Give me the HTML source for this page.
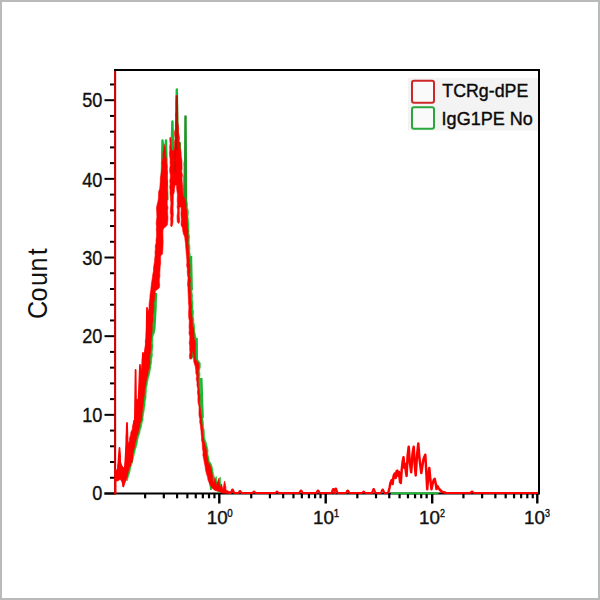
<!DOCTYPE html>
<html><head><meta charset="utf-8"><title>Histogram</title>
<style>
html,body{margin:0;padding:0;background:#fff;}
body{width:600px;height:600px;overflow:hidden;position:relative;font-family:"Liberation Sans",sans-serif;}
#frame{position:absolute;left:0;top:0;width:596px;height:596px;border:2px solid #b9bbbb;}
svg{position:absolute;left:0;top:0;}
svg text{font-family:"Liberation Sans",sans-serif;}
</style></head><body>
<div id="frame"></div>
<svg width="600" height="600" viewBox="0 0 600 600">
<rect x="408" y="78" width="130" height="52.5" fill="#f3f3f3"/>
<rect x="412" y="80.8" width="22" height="22" rx="2" fill="#fafafa" stroke="#cc2828" stroke-width="2"/>
<rect x="412" y="107.2" width="22" height="21.6" rx="2" fill="#fafafa" stroke="#28a83c" stroke-width="2"/>
<text x="442.3" y="97.3" font-size="19" textLength="86" lengthAdjust="spacingAndGlyphs" fill="#0a0a0a" stroke="#0a0a0a" stroke-width="0.4">TCRg-dPE</text>
<text x="441.6" y="124.8" font-size="19" textLength="91.2" lengthAdjust="spacingAndGlyphs" fill="#0a0a0a" stroke="#0a0a0a" stroke-width="0.4">IgG1PE No</text>
<path d="M114 70 H540" stroke="#000" stroke-width="2" fill="none"/>
<path d="M539 69 V494.5" stroke="#000" stroke-width="2" fill="none"/>
<path d="M104.5 493.5 H539" stroke="#000" stroke-width="2" fill="none"/>
<path d="M104.5 493.50 H115" stroke="#000" stroke-width="2"/>
<path d="M110 477.77 H115" stroke="#000" stroke-width="2"/>
<path d="M110 462.04 H115" stroke="#000" stroke-width="2"/>
<path d="M110 446.30 H115" stroke="#000" stroke-width="2"/>
<path d="M110 430.57 H115" stroke="#000" stroke-width="2"/>
<path d="M104.5 414.84 H115" stroke="#000" stroke-width="2"/>
<path d="M110 399.11 H115" stroke="#000" stroke-width="2"/>
<path d="M110 383.38 H115" stroke="#000" stroke-width="2"/>
<path d="M110 367.64 H115" stroke="#000" stroke-width="2"/>
<path d="M110 351.91 H115" stroke="#000" stroke-width="2"/>
<path d="M104.5 336.18 H115" stroke="#000" stroke-width="2"/>
<path d="M110 320.45 H115" stroke="#000" stroke-width="2"/>
<path d="M110 304.72 H115" stroke="#000" stroke-width="2"/>
<path d="M110 288.98 H115" stroke="#000" stroke-width="2"/>
<path d="M110 273.25 H115" stroke="#000" stroke-width="2"/>
<path d="M104.5 257.52 H115" stroke="#000" stroke-width="2"/>
<path d="M110 241.79 H115" stroke="#000" stroke-width="2"/>
<path d="M110 226.06 H115" stroke="#000" stroke-width="2"/>
<path d="M110 210.32 H115" stroke="#000" stroke-width="2"/>
<path d="M110 194.59 H115" stroke="#000" stroke-width="2"/>
<path d="M104.5 178.86 H115" stroke="#000" stroke-width="2"/>
<path d="M110 163.13 H115" stroke="#000" stroke-width="2"/>
<path d="M110 147.40 H115" stroke="#000" stroke-width="2"/>
<path d="M110 131.66 H115" stroke="#000" stroke-width="2"/>
<path d="M110 115.93 H115" stroke="#000" stroke-width="2"/>
<path d="M104.5 100.20 H115" stroke="#000" stroke-width="2"/>
<path d="M110 84.47 H115" stroke="#000" stroke-width="2"/>
<path d="M145.14 493.5 V498.3" stroke="#000" stroke-width="2.2"/>
<path d="M163.82 493.5 V498.3" stroke="#000" stroke-width="2.2"/>
<path d="M177.08 493.5 V498.3" stroke="#000" stroke-width="2.2"/>
<path d="M187.36 493.5 V498.3" stroke="#000" stroke-width="2.2"/>
<path d="M195.76 493.5 V498.3" stroke="#000" stroke-width="2.2"/>
<path d="M202.86 493.5 V498.3" stroke="#000" stroke-width="2.2"/>
<path d="M209.02 493.5 V498.3" stroke="#000" stroke-width="2.2"/>
<path d="M214.45 493.5 V498.3" stroke="#000" stroke-width="2.2"/>
<path d="M251.24 493.5 V498.3" stroke="#000" stroke-width="2.2"/>
<path d="M269.92 493.5 V498.3" stroke="#000" stroke-width="2.2"/>
<path d="M283.18 493.5 V498.3" stroke="#000" stroke-width="2.2"/>
<path d="M293.46 493.5 V498.3" stroke="#000" stroke-width="2.2"/>
<path d="M301.86 493.5 V498.3" stroke="#000" stroke-width="2.2"/>
<path d="M308.96 493.5 V498.3" stroke="#000" stroke-width="2.2"/>
<path d="M315.12 493.5 V498.3" stroke="#000" stroke-width="2.2"/>
<path d="M320.55 493.5 V498.3" stroke="#000" stroke-width="2.2"/>
<path d="M357.34 493.5 V498.3" stroke="#000" stroke-width="2.2"/>
<path d="M376.02 493.5 V498.3" stroke="#000" stroke-width="2.2"/>
<path d="M389.28 493.5 V498.3" stroke="#000" stroke-width="2.2"/>
<path d="M399.56 493.5 V498.3" stroke="#000" stroke-width="2.2"/>
<path d="M407.96 493.5 V498.3" stroke="#000" stroke-width="2.2"/>
<path d="M415.06 493.5 V498.3" stroke="#000" stroke-width="2.2"/>
<path d="M421.22 493.5 V498.3" stroke="#000" stroke-width="2.2"/>
<path d="M426.65 493.5 V498.3" stroke="#000" stroke-width="2.2"/>
<path d="M463.44 493.5 V498.3" stroke="#000" stroke-width="2.2"/>
<path d="M482.12 493.5 V498.3" stroke="#000" stroke-width="2.2"/>
<path d="M495.38 493.5 V498.3" stroke="#000" stroke-width="2.2"/>
<path d="M505.66 493.5 V498.3" stroke="#000" stroke-width="2.2"/>
<path d="M514.06 493.5 V498.3" stroke="#000" stroke-width="2.2"/>
<path d="M521.16 493.5 V498.3" stroke="#000" stroke-width="2.2"/>
<path d="M527.32 493.5 V498.3" stroke="#000" stroke-width="2.2"/>
<path d="M532.75 493.5 V498.3" stroke="#000" stroke-width="2.2"/>
<path d="M219.30 493.5 V503.5" stroke="#000" stroke-width="2.4"/>
<path d="M325.70 493.5 V503.5" stroke="#000" stroke-width="2.4"/>
<path d="M432.20 493.5 V503.5" stroke="#000" stroke-width="2.4"/>
<path d="M537.30 493.5 V503.5" stroke="#000" stroke-width="2.4"/>
<text transform="translate(102.3 500.00) scale(0.93 1.02)" font-size="19.5" text-anchor="end" fill="#111" stroke="#111" stroke-width="0.35">0</text>
<text transform="translate(102.3 421.84) scale(0.93 1.02)" font-size="19.5" text-anchor="end" fill="#111" stroke="#111" stroke-width="0.35">10</text>
<text transform="translate(102.3 343.18) scale(0.93 1.02)" font-size="19.5" text-anchor="end" fill="#111" stroke="#111" stroke-width="0.35">20</text>
<text transform="translate(102.3 264.52) scale(0.93 1.02)" font-size="19.5" text-anchor="end" fill="#111" stroke="#111" stroke-width="0.35">30</text>
<text transform="translate(102.3 186.86) scale(0.93 1.02)" font-size="19.5" text-anchor="end" fill="#111" stroke="#111" stroke-width="0.35">40</text>
<text transform="translate(102.3 107.20) scale(0.93 1.02)" font-size="19.5" text-anchor="end" fill="#111" stroke="#111" stroke-width="0.35">50</text>
<text x="206.70" y="523.9" font-size="18.8" fill="#111" stroke="#111" stroke-width="0.4">10</text>
<text transform="translate(227.30 516.9) scale(0.85 1)" font-size="11.5" fill="#111" stroke="#111" stroke-width="0.4">0</text>
<text x="313.10" y="523.9" font-size="18.8" fill="#111" stroke="#111" stroke-width="0.4">10</text>
<text transform="translate(333.70 516.9) scale(0.85 1)" font-size="11.5" fill="#111" stroke="#111" stroke-width="0.4">1</text>
<text x="419.00" y="523.9" font-size="18.8" fill="#111" stroke="#111" stroke-width="0.4">10</text>
<text transform="translate(439.90 516.9) scale(0.78 1)" font-size="11.5" fill="#111" stroke="#111" stroke-width="0.4">2</text>
<text x="524.10" y="523.9" font-size="18.8" fill="#111" stroke="#111" stroke-width="0.4">10</text>
<text transform="translate(545.00 516.9) scale(0.78 1)" font-size="11.5" fill="#111" stroke="#111" stroke-width="0.4">3</text>
<text transform="translate(46.6 316.7) rotate(-90) scale(0.9 1)" font-size="28" x="-2.67 16.9 34.1 50.2 68.2" fill="#111">Count</text>
<filter id="bl" x="-5%" y="-5%" width="110%" height="110%"><feGaussianBlur stdDeviation="0.35"/></filter>
<g filter="url(#bl)">
<clipPath id="ca"><rect x="100" y="293" width="100" height="215"/></clipPath>
<clipPath id="cb"><rect x="183" y="100" width="80" height="140"/><rect x="150" y="236" width="72" height="270"/></clipPath>
<path clip-path="url(#ca)" d="M126.60 472.00 L127.04 469.00 L127.47 466.00 L127.84 463.00 L127.90 460.00 L128.65 456.75 L128.82 453.50 L129.33 450.25 L129.30 447.00 L129.58 444.00 L130.67 441.00 L131.80 438.00 L132.10 435.00 L132.93 432.00 L133.86 429.00 L133.85 426.00 L134.90 423.00 L135.90 421.00 L136.37 417.67 L136.67 414.33 L137.40 411.00 L138.17 407.33 L138.93 403.67 L139.60 400.00 L139.66 397.00 L140.35 394.00 L140.90 391.00 L141.60 388.00 L142.71 384.33 L143.31 380.67 L143.80 377.00 L143.57 374.00 L144.22 371.00 L143.70 368.00 L144.10 365.00 L144.28 362.00 L143.91 359.00 L143.88 356.00 L144.40 353.00 L145.13 356.50 L145.20 360.00 L145.24 356.67 L145.54 353.33 L146.10 350.00 L146.83 347.00 L147.04 344.00 L146.81 341.00 L147.72 338.00 L147.60 335.00 L147.94 331.60 L148.36 328.20 L148.23 324.80 L149.20 321.40 L149.10 318.00 L149.65 314.75 L150.27 311.50 L150.58 308.25 L150.60 305.00 L150.79 301.75 L151.23 298.50 L151.42 295.25 L152.10 292.00 L152.16 289.00 L152.46 286.00 L153.05 283.00 L153.60 280.00 L154.07 277.00 L153.90 274.00 L154.89 271.00 L155.10 268.00 L155.25 264.80 L155.53 261.60 L156.29 258.40 L156.28 255.20 L156.60 252.00 L156.68 249.00 L157.08 246.00 L157.53 243.00 L157.60 240.00 L157.28 236.67 L158.19 233.33 L157.42 230.00 L158.16 226.67 L158.33 223.33 L158.10 220.00 L157.77 217.00 L158.56 214.00 L158.28 211.00 L158.57 208.00 L158.60 205.00 L158.66 201.67 L159.19 198.33 L160.10 195.00 L160.31 191.67 L161.51 188.33 L161.60 185.00 L161.65 181.75 L162.48 178.50 L162.96 175.25 L162.90 172.00 L163.60 169.00 L163.36 166.00 L163.67 163.00 L164.10 160.00 L164.49 156.67 L165.08 153.33 L165.20 150.00 L166.10 144.50 L166.30 148.25 L167.20 152.00 L167.72 155.67 L168.07 159.33 L168.10 163.00 L168.57 166.14 L167.97 169.29 L168.93 172.43 L168.30 175.57 L168.67 178.71 L169.06 181.86 L169.10 185.00 L169.50 188.22 L169.00 191.44 L169.55 194.67 L169.23 197.89 L169.04 201.11 L169.07 204.33 L168.97 207.56 L168.90 210.78 L169.30 214.00 L168.85 217.67 L169.20 221.33 L168.90 225.00 L167.60 226.50 L165.60 228.00 L164.60 230.00 L165.05 233.00 L164.30 236.00 L164.19 239.00 L165.04 242.00 L164.60 245.00 L164.46 248.00 L164.18 251.00 L164.10 254.00 L162.20 256.00 L161.81 259.50 L161.98 263.00 L162.04 266.50 L161.60 270.00 L161.43 273.00 L161.26 276.00 L160.80 279.00 L161.44 282.00 L160.51 285.00 L160.80 288.00 L157.00 291.00 L156.66 294.00 L156.64 297.00 L156.00 300.00 L155.44 303.00 L155.76 306.00 L155.73 309.00 L155.10 312.00 L154.98 315.20 L154.88 318.40 L154.03 321.60 L154.08 324.80 L153.90 328.00 L153.33 331.00 L153.71 334.00 L152.97 337.00 L152.90 340.00 L152.68 343.00 L153.00 346.00 L152.69 349.00 L152.20 352.00 L152.43 355.33 L151.76 358.67 L151.60 362.00 L151.09 365.00 L150.81 368.00 L150.08 371.00 L149.60 374.00 L148.41 378.00 L147.60 382.00 L147.14 385.00 L146.53 388.00 L146.36 391.00 L146.10 394.00 L146.04 398.00 L145.10 402.00 L145.18 405.00 L144.55 408.00 L144.10 411.00 L143.62 414.00 L143.06 417.00 L143.10 420.00 L141.96 423.33 L141.49 426.67 L140.30 430.00 L139.80 433.33 L138.51 436.67 L137.80 440.00 L137.22 443.33 L136.38 446.67 L135.30 450.00 L134.64 453.33 L133.78 456.67 L132.80 460.00 L132.20 463.33 L131.01 466.67 L130.30 470.00 L129.63 473.00 L128.60 476.00 L127.10 481.00 L126.74 478.00 L126.75 475.00 Z" fill="#18c030" stroke="#18c030" stroke-width="0.6"/>
<path clip-path="url(#cb)" d="M171.90 224.00 L172.13 220.88 L172.05 217.75 L171.68 214.62 L172.25 211.50 L171.97 208.38 L171.90 205.25 L171.37 202.12 L171.80 199.00 L171.71 195.67 L171.31 192.33 L171.40 189.00 L171.53 185.92 L171.32 182.85 L171.62 179.77 L171.44 176.69 L171.55 173.62 L171.12 170.54 L171.37 167.46 L171.43 164.38 L171.49 161.31 L171.03 158.23 L171.45 155.15 L171.46 152.08 L171.10 149.00 L171.32 145.75 L171.63 142.50 L171.66 139.25 L171.30 136.00 L172.30 138.00 L172.48 141.67 L172.66 145.33 L172.80 149.00 L175.30 150.00 L175.25 147.00 L175.80 144.00 L176.24 140.67 L176.46 137.33 L176.18 134.00 L176.51 130.67 L176.66 127.33 L176.60 124.00 L176.94 120.67 L176.57 117.33 L177.25 114.00 L177.21 110.67 L177.42 107.33 L177.40 104.00 L177.56 100.67 L177.98 97.33 L178.10 94.00 L178.58 97.33 L178.69 100.67 L178.80 104.00 L179.13 107.33 L178.64 110.67 L178.89 114.00 L179.28 117.33 L179.60 120.67 L179.60 124.00 L179.58 127.33 L180.23 130.67 L180.30 134.00 L180.67 137.00 L180.39 140.00 L181.02 143.00 L181.30 146.00 L181.39 149.00 L181.57 152.00 L182.30 155.00 L182.30 158.00 L182.80 161.00 L183.30 164.00 L183.10 167.33 L183.19 170.67 L183.13 174.00 L183.60 177.33 L183.61 180.67 L183.80 184.00 L184.07 187.33 L184.21 190.67 L184.30 194.00 L186.30 199.00 L187.30 204.00 L187.40 207.33 L188.33 210.67 L188.30 214.00 L188.05 217.33 L188.61 220.67 L188.90 224.00 L188.83 227.12 L189.07 230.25 L188.93 233.38 L189.70 236.50 L189.41 239.62 L189.23 242.75 L189.88 245.88 L189.90 249.00 L189.74 252.00 L190.34 255.00 L190.36 258.00 L190.70 261.00 L190.91 264.17 L191.38 267.33 L191.39 270.50 L191.16 273.67 L191.65 276.83 L191.63 280.00 L191.52 283.17 L191.44 286.33 L191.99 289.50 L192.09 292.67 L192.58 295.83 L192.30 299.00 L192.97 302.33 L192.90 305.67 L192.92 309.00 L193.65 312.33 L193.10 315.67 L193.80 319.00 L193.75 322.00 L194.46 325.00 L194.80 328.00 L194.68 331.00 L195.30 334.00 L196.07 337.50 L196.60 341.00 L196.99 344.40 L196.57 347.80 L196.66 351.20 L196.51 354.60 L196.80 358.00 L198.36 360.50 L200.30 363.00 L200.30 367.00 L199.50 371.00 L200.09 374.00 L199.73 377.00 L200.42 380.00 L200.54 383.00 L200.42 386.00 L200.50 389.00 L200.53 392.33 L201.43 395.67 L201.25 399.00 L201.42 402.33 L201.59 405.67 L202.00 409.00 L202.74 412.00 L202.59 415.00 L202.71 418.00 L203.18 421.00 L203.50 424.00 L203.46 427.00 L204.21 430.00 L204.35 433.00 L204.51 436.00 L205.00 439.00 L206.40 443.00 L207.30 447.00 L208.09 450.50 L207.86 454.00 L208.83 457.50 L209.30 461.00 L211.30 464.00 L212.80 469.00 L213.10 472.00 L213.80 475.00 L214.69 479.00 L214.80 483.00 L215.80 479.75 L216.30 476.50 L216.72 480.75 L217.60 485.00 L218.80 481.00 L220.30 477.00 L220.52 480.33 L220.86 483.67 L221.60 487.00 L222.80 483.00 L224.30 488.50 L225.49 484.25 L225.80 480.00 L226.11 483.00 L226.90 486.00 L227.30 489.00 L229.30 490.00 L232.30 491.00 L233.80 488.00 L235.30 491.00 L232.28 491.75 L229.30 492.50 L226.43 492.25 L223.30 492.00 L220.30 490.50 L216.30 489.50 L213.30 487.00 L211.30 484.00 L209.30 479.00 L208.64 476.00 L207.80 473.00 L207.27 469.00 L206.30 465.00 L205.21 461.00 L204.80 457.00 L204.70 454.00 L203.95 451.00 L203.80 448.00 L203.50 445.00 L202.99 442.00 L202.80 439.00 L202.38 436.00 L202.35 433.00 L202.05 430.00 L201.71 427.00 L201.60 424.00 L201.56 421.00 L201.16 418.00 L200.40 415.00 L200.34 412.00 L200.30 409.00 L200.01 405.50 L200.17 402.00 L199.90 398.50 L199.30 395.00 L199.09 391.50 L198.36 388.00 L198.80 384.50 L198.30 381.00 L197.93 378.00 L197.77 375.00 L197.59 372.00 L197.10 369.00 L196.22 365.00 L195.10 361.00 L194.71 358.00 L194.72 355.00 L193.87 352.00 L193.60 349.00 L193.24 352.00 L193.38 355.00 L192.80 358.00 L191.10 358.00 L190.77 354.78 L190.81 351.56 L191.23 348.33 L190.49 345.11 L191.12 341.89 L190.94 338.67 L190.65 335.44 L190.46 332.22 L190.60 329.00 L190.77 326.00 L190.81 323.00 L190.04 320.00 L190.26 317.00 L190.24 314.00 L190.12 311.00 L189.89 308.00 L189.65 305.00 L189.96 302.00 L189.80 299.00 L189.96 295.88 L189.16 292.75 L189.18 289.62 L189.59 286.50 L189.44 283.38 L189.20 280.25 L188.50 277.12 L188.80 274.00 L188.81 270.88 L188.86 267.75 L188.69 264.62 L188.23 261.50 L187.46 258.38 L187.98 255.25 L187.23 252.12 L187.30 249.00 L187.10 245.67 L187.04 242.33 L186.30 239.00 L185.87 236.00 L184.72 233.00 L184.24 230.00 L183.80 227.00 L182.30 224.00 L182.68 221.00 L181.98 218.00 L182.40 215.00 L182.22 212.00 L182.00 209.00 L182.30 206.00 L180.80 206.00 L180.91 209.00 L180.39 212.00 L180.45 215.00 L180.69 218.00 L180.80 221.00 L179.80 222.50 L178.60 221.00 L178.21 218.00 L178.20 215.00 L178.67 212.00 L178.82 209.00 L178.94 206.00 L178.27 203.00 L178.54 200.00 L178.60 197.00 L178.26 193.75 L178.34 190.50 L178.07 187.25 L177.90 184.00 L176.50 184.00 L176.44 187.50 L175.60 191.00 L174.99 194.00 L174.60 197.00 L174.20 200.40 L174.78 203.80 L174.29 207.20 L174.72 210.60 L174.60 214.00 L174.34 217.33 L174.44 220.67 L173.80 224.00 L172.90 226.00 L172.10 225.00 Z" fill="#18c030" stroke="#18c030" stroke-width="0.6"/>
<path d="M210.3 482 L211 490 M218.3 489 L219.5 493" stroke="#18c030" stroke-width="2" fill="none"/>
<path d="M391 493.3 H438.5" stroke="#18c030" stroke-width="1.7" fill="none"/>
<path d="M161.50 200.00 L162.50 140.50 L164.20 160.00 L166.00 140.50 L167.30 200.00" stroke="#18b834" stroke-width="2.4" fill="none" stroke-linejoin="round"/>
<path d="M171.40 160.00 L172.40 121.50 L173.40 160.00" stroke="#18b834" stroke-width="2.4" fill="none" stroke-linejoin="round"/>
<path d="M176.00 140.00 L176.80 89.50 L177.60 140.00" stroke="#18b834" stroke-width="2.4" fill="none" stroke-linejoin="round"/>
<path d="M179.60 158.00 L179.80 143.00 L180.30 162.00" stroke="#18b834" stroke-width="2.4" fill="none" stroke-linejoin="round"/>
<path d="M185.00 206.00 L185.50 116.50 L186.00 206.00" stroke="#209428" stroke-width="2.5" fill="none" stroke-linejoin="round"/>
<path d="M191.00 256.00 L191.70 290.00" stroke="#18b834" stroke-width="2.4" fill="none" stroke-linejoin="round"/>
<path d="M155.90 293.00 L155.40 310.00 L154.30 329.00 L153.20 334.00" stroke="#18b834" stroke-width="2.4" fill="none" stroke-linejoin="round"/>
<path d="M196.60 338.00 L196.80 360.00" stroke="#18b834" stroke-width="2.4" fill="none" stroke-linejoin="round"/>
<path d="M201.30 378.00 L202.60 418.00" stroke="#18b834" stroke-width="2.4" fill="none" stroke-linejoin="round"/>
<path d="M115.1 71 V494.5" stroke="#cc0000" stroke-width="2.1" fill="none"/>
<path d="M125.00 472.00 L125.09 469.00 L125.69 466.00 L125.86 463.00 L126.30 460.00 L126.74 456.75 L127.11 453.50 L126.96 450.25 L127.70 447.00 L127.96 444.00 L129.40 441.00 L129.58 438.00 L130.50 435.00 L130.96 432.00 L132.35 429.00 L132.57 426.00 L133.30 423.00 L134.30 421.00 L135.10 417.67 L135.28 414.33 L135.80 411.00 L136.66 407.33 L136.95 403.67 L138.00 400.00 L138.62 397.00 L139.33 394.00 L139.52 391.00 L140.00 388.00 L140.95 384.33 L141.62 380.67 L142.20 377.00 L141.88 374.00 L142.58 371.00 L142.51 368.00 L142.50 365.00 L142.40 362.00 L142.23 359.00 L143.05 356.00 L142.80 353.00 L143.18 356.50 L143.60 360.00 L144.10 356.67 L144.54 353.33 L144.50 350.00 L144.99 347.00 L145.48 344.00 L145.31 341.00 L145.97 338.00 L146.00 335.00 L146.25 331.60 L146.99 328.20 L147.24 324.80 L146.84 321.40 L147.50 318.00 L147.55 314.75 L148.00 311.50 L149.04 308.25 L149.00 305.00 L149.32 301.75 L149.86 298.50 L149.95 295.25 L150.50 292.00 L150.88 289.00 L151.15 286.00 L151.49 283.00 L152.00 280.00 L152.45 277.00 L152.83 274.00 L153.49 271.00 L153.50 268.00 L153.96 264.80 L154.49 261.60 L154.72 258.40 L155.14 255.20 L155.00 252.00 L155.40 249.00 L155.20 246.00 L156.07 243.00 L156.00 240.00 L156.50 236.67 L156.53 233.33 L156.31 230.00 L156.53 226.67 L156.16 223.33 L156.50 220.00 L156.90 217.00 L156.77 214.00 L156.61 211.00 L156.51 208.00 L157.00 205.00 L157.82 201.67 L158.44 198.33 L158.50 195.00 L158.63 191.67 L159.77 188.33 L160.00 185.00 L160.24 181.75 L160.34 178.50 L160.79 175.25 L161.30 172.00 L161.84 169.00 L162.24 166.00 L161.79 163.00 L162.50 160.00 L162.97 156.67 L162.82 153.33 L163.60 150.00 L164.50 144.50 L165.25 148.25 L165.60 152.00 L165.75 155.67 L166.54 159.33 L166.50 163.00 L167.08 166.14 L166.79 169.29 L167.38 172.43 L166.90 175.57 L166.83 178.71 L167.45 181.86 L167.50 185.00 L167.10 188.22 L167.27 191.44 L167.48 194.67 L167.69 197.89 L167.30 201.11 L167.22 204.33 L167.99 207.56 L167.51 210.78 L167.70 214.00 L167.98 217.67 L167.79 221.33 L167.30 225.00 L166.00 226.50 L164.00 228.00 L163.00 230.00 L162.89 233.00 L162.96 236.00 L163.02 239.00 L163.13 242.00 L163.00 245.00 L162.92 248.00 L162.72 251.00 L162.50 254.00 L160.60 256.00 L160.56 259.50 L160.70 263.00 L160.16 266.50 L160.00 270.00 L159.80 273.00 L159.93 276.00 L159.36 279.00 L159.29 282.00 L159.76 285.00 L159.20 288.00 L155.40 291.00 L155.09 294.00 L154.78 297.00 L154.40 300.00 L153.74 303.00 L153.87 306.00 L153.80 309.00 L153.50 312.00 L152.83 315.20 L153.12 318.40 L152.90 321.60 L152.14 324.80 L152.30 328.00 L152.16 331.00 L151.77 334.00 L151.71 337.00 L151.30 340.00 L150.99 343.00 L151.14 346.00 L150.99 349.00 L150.60 352.00 L149.97 355.33 L149.80 358.67 L150.00 362.00 L149.66 365.00 L149.42 368.00 L148.28 371.00 L148.00 374.00 L146.96 378.00 L146.00 382.00 L145.71 385.00 L145.09 388.00 L144.75 391.00 L144.50 394.00 L143.83 398.00 L143.50 402.00 L143.05 405.00 L142.92 408.00 L142.32 411.00 L142.06 414.00 L142.08 417.00 L141.50 420.00 L140.14 423.33 L139.70 426.67 L138.70 430.00 L138.08 433.33 L136.86 436.67 L136.20 440.00 L135.12 443.33 L134.81 446.67 L133.70 450.00 L132.63 453.33 L131.75 456.67 L131.20 460.00 L130.31 463.33 L129.71 466.67 L128.70 470.00 L127.49 473.00 L127.00 476.00 L125.50 481.00 L125.17 478.00 L125.02 475.00 Z" fill="#ff0000" stroke="#ff0000" stroke-width="0.6" stroke-linejoin="round"/>
<path d="M170.60 225.00 L170.89 221.88 L170.52 218.75 L170.88 215.62 L170.25 212.50 L170.39 209.38 L170.66 206.25 L170.86 203.12 L170.50 200.00 L170.32 196.67 L169.99 193.33 L170.10 190.00 L169.74 186.92 L170.08 183.85 L169.75 180.77 L170.28 177.69 L170.29 174.62 L169.68 171.54 L169.74 168.46 L170.19 165.38 L170.02 162.31 L170.14 159.23 L169.71 156.15 L169.49 153.08 L169.80 150.00 L169.66 146.75 L170.16 143.50 L169.74 140.25 L170.00 137.00 L171.00 139.00 L171.03 142.67 L171.26 146.33 L171.50 150.00 L174.00 151.00 L174.18 148.00 L174.50 145.00 L174.55 141.67 L175.15 138.33 L174.59 135.00 L174.59 131.67 L175.57 128.33 L175.30 125.00 L175.78 121.67 L176.00 118.33 L175.64 115.00 L176.24 111.67 L176.35 108.33 L176.10 105.00 L176.08 101.67 L176.79 98.33 L176.80 95.00 L177.34 98.33 L177.41 101.67 L177.50 105.00 L177.65 108.33 L177.58 111.67 L177.76 115.00 L177.79 118.33 L177.78 121.67 L178.30 125.00 L178.61 128.33 L178.57 131.67 L179.00 135.00 L179.53 138.00 L179.09 141.00 L180.11 144.00 L180.00 147.00 L180.51 150.00 L181.05 153.00 L181.00 156.00 L181.69 159.00 L182.03 162.00 L182.00 165.00 L182.15 168.33 L181.73 171.67 L182.47 175.00 L182.04 178.33 L182.24 181.67 L182.50 185.00 L182.81 188.33 L182.86 191.67 L183.00 195.00 L185.00 200.00 L186.00 205.00 L186.26 208.33 L187.06 211.67 L187.00 215.00 L187.30 218.33 L187.26 221.67 L187.60 225.00 L187.50 228.12 L188.18 231.25 L187.95 234.38 L188.35 237.50 L188.09 240.62 L188.08 243.75 L188.51 246.88 L188.60 250.00 L189.09 253.00 L188.70 256.00 L189.46 259.00 L189.40 262.00 L189.91 265.17 L189.94 268.33 L190.09 271.50 L189.49 274.67 L190.18 277.83 L190.53 281.00 L189.93 284.17 L190.26 287.33 L190.39 290.50 L190.76 293.67 L190.80 296.83 L191.00 300.00 L191.23 303.33 L191.75 306.67 L191.30 310.00 L191.60 313.33 L191.91 316.67 L192.50 320.00 L192.46 323.00 L192.71 326.00 L193.83 329.00 L194.02 332.00 L194.00 335.00 L194.28 338.50 L195.30 342.00 L195.34 345.40 L195.21 348.80 L195.25 352.20 L195.33 355.60 L195.50 359.00 L197.38 361.50 L199.00 364.00 L199.00 368.00 L198.20 372.00 L198.44 375.00 L198.41 378.00 L198.42 381.00 L198.71 384.00 L198.69 387.00 L199.20 390.00 L199.50 393.33 L199.89 396.67 L199.84 400.00 L199.82 403.33 L200.16 406.67 L200.70 410.00 L200.89 413.00 L201.39 416.00 L201.85 419.00 L201.79 422.00 L202.20 425.00 L202.77 428.00 L202.91 431.00 L203.04 434.00 L203.29 437.00 L203.70 440.00 L204.85 444.00 L206.00 448.00 L206.68 451.50 L206.93 455.00 L207.67 458.50 L208.00 462.00 L210.00 465.00 L211.50 470.00 L211.96 473.00 L212.50 476.00 L212.77 480.00 L213.50 484.00 L214.28 480.75 L215.00 477.50 L215.83 481.75 L216.30 486.00 L217.50 482.00 L219.00 478.00 L219.05 481.33 L219.80 484.67 L220.30 488.00 L221.50 484.00 L223.00 489.50 L223.68 485.25 L224.50 481.00 L225.34 484.00 L225.89 487.00 L226.00 490.00 L228.00 491.00 L231.00 492.00 L232.50 489.00 L234.00 492.00 L230.89 492.75 L228.00 493.50 L225.36 493.25 L222.00 493.00 L219.00 491.50 L215.00 490.50 L212.00 488.00 L210.00 485.00 L208.00 480.00 L207.51 477.00 L206.50 474.00 L205.54 470.00 L205.00 466.00 L204.22 462.00 L203.50 458.00 L202.83 455.00 L203.12 452.00 L202.50 449.00 L202.31 446.00 L202.18 443.00 L201.50 440.00 L201.52 437.00 L201.17 434.00 L200.99 431.00 L200.60 428.00 L200.30 425.00 L199.68 422.00 L199.86 419.00 L199.07 416.00 L198.94 413.00 L199.00 410.00 L199.00 406.50 L198.09 403.00 L197.88 399.50 L198.00 396.00 L197.39 392.50 L197.84 389.00 L196.96 385.50 L197.00 382.00 L196.27 379.00 L196.71 376.00 L195.76 373.00 L195.80 370.00 L195.11 366.00 L193.80 362.00 L193.58 359.00 L193.35 356.00 L193.08 353.00 L192.30 350.00 L192.10 353.00 L192.04 356.00 L191.50 359.00 L189.80 359.00 L189.33 355.78 L189.93 352.56 L189.64 349.33 L189.77 346.11 L189.17 342.89 L189.69 339.67 L189.80 336.44 L188.96 333.22 L189.30 330.00 L189.06 327.00 L189.20 324.00 L189.36 321.00 L188.75 318.00 L188.61 315.00 L188.59 312.00 L188.84 309.00 L188.89 306.00 L188.48 303.00 L188.50 300.00 L188.26 296.88 L188.16 293.75 L187.99 290.62 L187.93 287.50 L187.50 284.38 L187.75 281.25 L188.05 278.12 L187.50 275.00 L187.23 271.88 L187.35 268.75 L186.63 265.62 L186.92 262.50 L186.79 259.38 L186.53 256.25 L186.20 253.12 L186.00 250.00 L185.65 246.67 L185.46 243.33 L185.00 240.00 L184.73 237.00 L183.43 234.00 L182.76 231.00 L182.50 228.00 L181.00 225.00 L181.22 222.00 L181.37 219.00 L181.02 216.00 L180.95 213.00 L181.20 210.00 L181.00 207.00 L179.50 207.00 L179.22 210.00 L179.29 213.00 L179.23 216.00 L179.58 219.00 L179.50 222.00 L178.50 223.50 L177.30 222.00 L177.13 219.00 L177.06 216.00 L177.47 213.00 L177.71 210.00 L177.12 207.00 L177.48 204.00 L177.22 201.00 L177.30 198.00 L177.44 194.75 L177.03 191.50 L176.57 188.25 L176.60 185.00 L175.20 185.00 L174.50 188.50 L174.30 192.00 L173.37 195.00 L173.30 198.00 L173.28 201.40 L173.19 204.80 L173.01 208.20 L173.17 211.60 L173.30 215.00 L172.87 218.33 L173.01 221.67 L172.50 225.00 L171.60 227.00 L170.80 226.00 Z" fill="#ff0000" stroke="#ff0000" stroke-width="0.6" stroke-linejoin="round"/>
<path d="M115.50 493.50 L115.50 470.00 L117.00 478.00 L118.00 468.00 L119.50 448.00 L120.50 470.00 L121.50 480.00 L122.30 474.00 L123.30 486.50 L124.30 476.00 L125.00 468.00 L126.00 450.00 L127.00 423.00 L127.80 450.00 L128.50 466.00 L129.30 458.00 L130.00 466.00 L131.00 452.00 L131.80 462.00 L132.80 446.00 L134.00 421.00 L134.60 440.00 L135.60 370.00 L136.20 420.00 L137.00 400.00 L138.00 412.00 L139.00 390.00 L140.00 365.00 L140.70 395.00 L141.80 372.00 L143.00 353.00 L143.80 385.00 L145.00 352.00 L146.00 372.00 L147.00 308.00 L147.80 350.00" stroke="#ff0000" stroke-width="1.8" fill="none" stroke-linejoin="round"/>
<path d="M116.00 471.00 L118.00 468.00 L117.93 465.00 L118.94 462.00 L118.73 459.00 L119.09 456.00 L119.22 453.00 L119.50 450.00 L120.05 453.00 L120.29 456.00 L120.30 459.00 L120.50 462.00 L122.00 466.00 L124.00 468.00 L125.00 466.00 L125.23 462.50 L125.70 459.00 L126.07 455.50 L126.00 452.00 L126.02 449.00 L126.43 446.00 L126.75 443.00 L126.42 440.00 L126.31 437.00 L126.43 434.00 L126.97 431.00 L127.05 428.00 L127.00 425.00 L127.52 428.00 L127.54 431.00 L127.10 434.00 L127.17 437.00 L127.34 440.00 L127.39 443.00 L127.96 446.00 L128.21 449.00 L128.00 452.00 L128.36 455.33 L127.78 458.67 L128.33 462.00 L127.83 465.33 L127.93 468.67 L128.00 472.00 L127.21 476.00 L126.00 480.00 L124.50 484.00 L123.30 487.00 L122.00 482.00 L120.50 479.00 L119.00 480.00 L117.50 481.00 L116.00 481.00 L115.63 477.67 L115.63 474.33 Z" fill="#ff0000" stroke="#ff0000" stroke-width="0.8" stroke-linejoin="round"/>
<path d="M228.00 493.10 L230.70 493.10 L232.20 489.60 L232.80 489.60 L234.30 493.10 L238.20 493.10 L239.70 491.10 L240.30 491.10 L241.80 493.10 L252.20 493.10 L253.70 491.60 L254.30 491.60 L255.80 493.10 L275.20 493.10 L276.70 491.60 L277.30 491.60 L278.80 493.10 L299.20 493.10 L300.70 490.60 L301.30 490.60 L302.80 493.10 L316.20 493.10 L317.70 490.60 L318.30 490.60 L319.80 493.10 L331.50 493.10 L333.00 488.90 L333.60 488.90 L335.10 493.10 L334.00 493.10 L335.50 488.60 L336.10 488.60 L337.60 493.10 L345.90 493.10 L347.40 490.60 L348.00 490.60 L349.50 493.10 L361.90 493.10 L363.40 491.60 L364.00 491.60 L365.50 493.10 L371.90 493.10 L373.40 489.10 L374.00 489.10 L375.50 493.10 L380.90 493.10 L382.40 489.60 L383.00 489.60 L384.50 493.10 L388.30 493.10" stroke="#ff0000" stroke-width="2" fill="none" stroke-linejoin="round"/>
<path d="M388.30 492.60 L389.50 488.00 L390.40 483.00 L391.70 480.00 L392.60 484.00 L393.60 476.00 L394.70 473.50 L395.60 478.00 L396.50 471.50 L397.30 470.70 L398.30 476.00 L399.00 472.00 L400.00 482.00 L400.80 483.00 L401.70 470.00 L402.60 462.00 L403.50 457.30 L404.50 468.00 L405.20 464.00 L405.90 472.00 L406.60 476.00 L407.60 456.00 L408.70 446.70 L409.80 462.00 L411.20 472.30 L412.50 454.00 L413.70 446.70 L414.70 464.00 L415.70 475.50 L417.00 456.00 L418.30 443.50 L419.40 458.00 L420.40 466.00 L421.30 473.00 L422.40 466.00 L423.30 460.00 L424.30 457.00 L425.30 454.70 L426.30 472.00 L427.20 489.30 L428.30 476.00 L429.30 468.00 L430.40 480.00 L431.50 489.30 L432.60 484.00 L433.70 480.00 L434.70 478.70 L435.80 484.00 L436.50 489.00 L437.30 486.00 L438.50 488.00 L439.60 489.50 L441.60 491.50 L443.50 492.30 L446.00 492.80" stroke="#ff0000" stroke-width="2.5" fill="none" stroke-linejoin="round"/>
<path d="M446.00 493.00 L470.20 493.00 L471.70 491.60 L472.30 491.60 L473.80 493.00 L538.00 493.00" stroke="#ff0000" stroke-width="2" fill="none" stroke-linejoin="round"/>
<path d="M176.7 95.5 V132 L176.2 150" stroke="#a01606" stroke-width="2.2" fill="none" opacity="0.9"/>
<path d="M175.4 150 L174.6 172" stroke="#a01606" stroke-width="1.4" fill="none" opacity="0.5"/>
</g>
</svg>
</body></html>
